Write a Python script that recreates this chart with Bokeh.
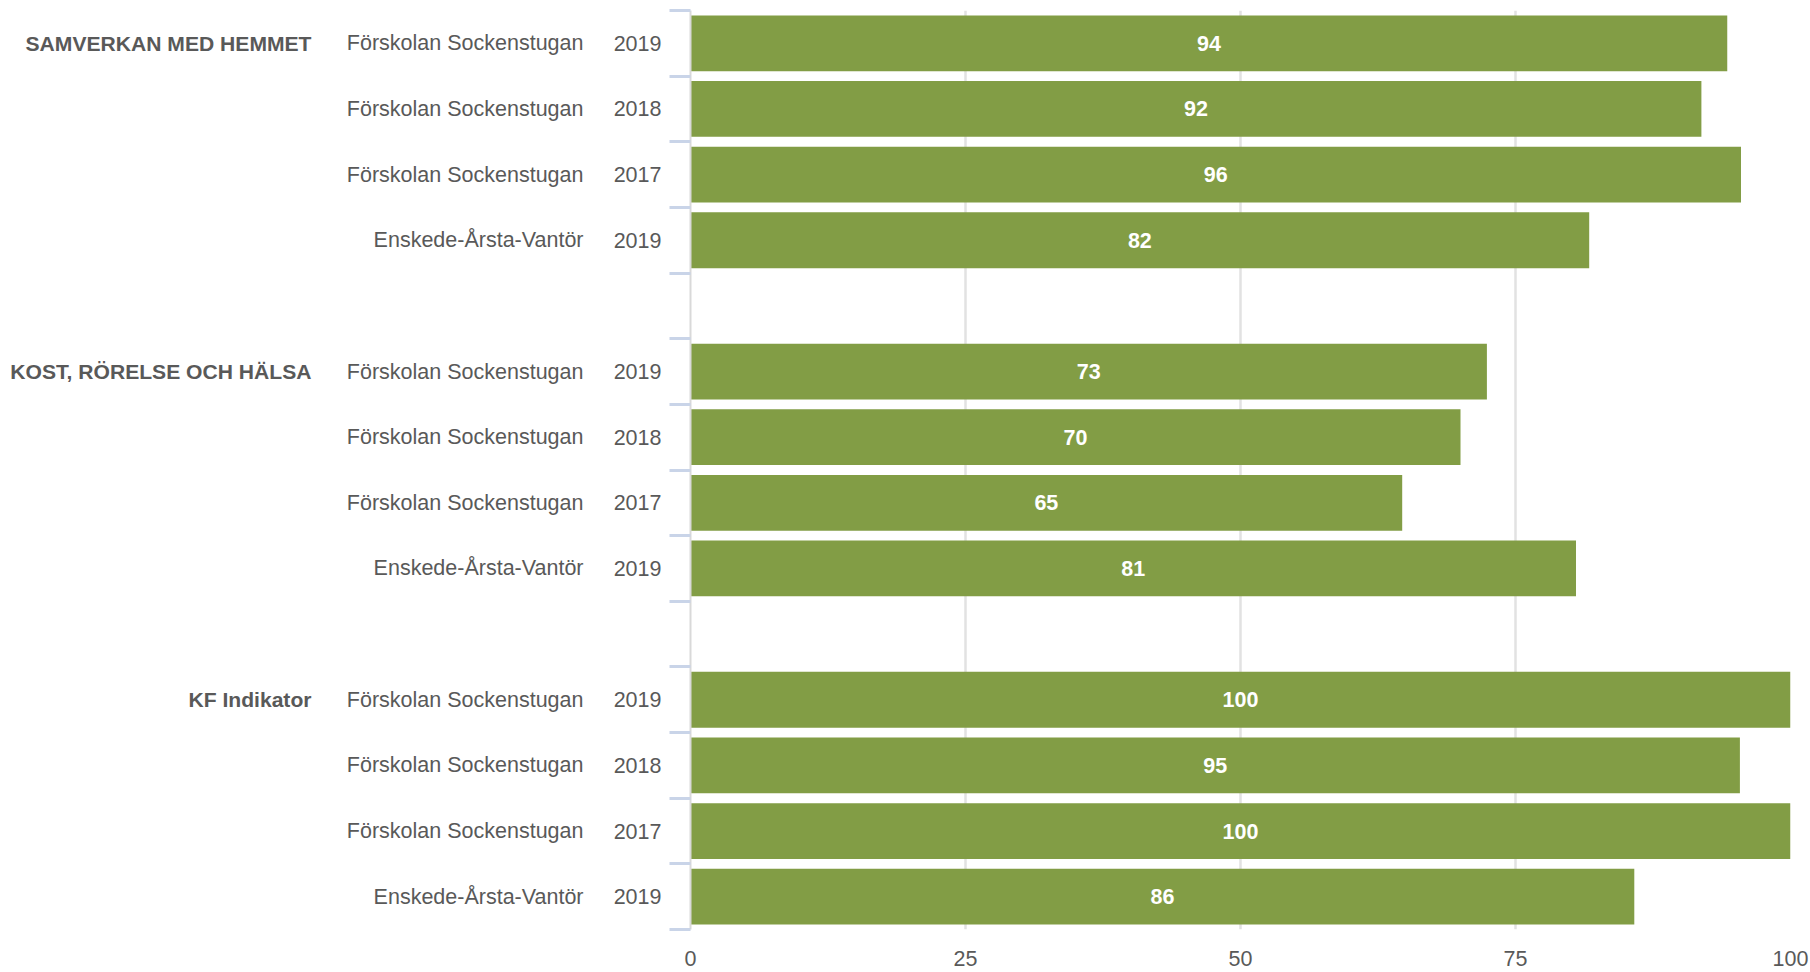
from bokeh.plotting import figure
from bokeh.models import Range1d, FixedTicker, LinearAxis, ColumnDataSource
from bokeh.embed import file_html
from bokeh.resources import INLINE
from bokeh.core.properties import value

# ---------------- data ----------------
groups = ["SAMVERKAN MED HEMMET", "KOST, RÖRELSE OCH HÄLSA", "KF Indikator"]
units = ["Förskolan Sockenstugan", "Förskolan Sockenstugan",
         "Förskolan Sockenstugan", "Enskede-Årsta-Vantör"]
years = ["2019", "2018", "2017", "2019"]

values_samverkan = [94.25, 91.9, 95.5, 81.7]
labels_samverkan = ["94", "92", "96", "82"]
values_kost = [72.4, 70.0, 64.7, 80.5]
labels_kost = ["73", "70", "65", "81"]
values_kf = [100, 95.4, 100, 85.8]
labels_kf = ["100", "95", "100", "86"]

x_ticks = [0, 25, 50, 75, 100]

# ---------------- styling ----------------
FONT = "Liberation Sans"
TEXT_COL = "#595959"
BAR_COL = "#829D45"
FS = "21.5px"

series_values = [values_samverkan, values_kost, values_kf]
series_labels = [labels_samverkan, labels_kost, labels_kf]

rows_per_group = len(units)
step = rows_per_group + 1          # one empty slot between groups
n_slots = len(groups) * step - 1

ys, vs, ts = [], [], []
year_over, unit_over, group_over = {}, {}, {}
for g, (gname, vals, labs) in enumerate(zip(groups, series_values, series_labels)):
    for r in range(rows_per_group):
        k = g * step + r
        ys.append(k)
        vs.append(vals[r])
        ts.append(labs[r])
        year_over[k] = years[r]
        unit_over[k] = units[r]
    group_over[g * step] = gname

boundaries = [k - 0.5 for k in range(n_slots + 1)]
src = ColumnDataSource(dict(y=ys, v=vs, mid=[v / 2 for v in vs], t=ts))

p = figure(width=1810, height=972,
           x_range=Range1d(x_ticks[0], x_ticks[-1]),
           y_range=Range1d(n_slots - 0.5, -0.5),
           output_backend="svg", toolbar_location=None,
           min_border_left=690, min_border_right=20,
           min_border_top=10, min_border_bottom=43)
p.outline_line_color = None
p.background_fill_color = "white"
p.border_fill_color = "white"

# grid
p.ygrid.visible = False
p.xgrid.ticker = FixedTicker(ticks=x_ticks[1:-1])
p.xgrid.grid_line_color = "#e2e2e2"
p.xgrid.grid_line_width = 2.5

# bars
p.hbar(y="y", left=0, right="v", height=0.85, source=src,
       fill_color=BAR_COL, line_color=None)
p.text(x="mid", y="y", text="t", source=src,
       text_align="center", text_baseline="middle",
       text_color="white", text_font=value(FONT),
       text_font_style="bold", text_font_size=FS)

# x axis
xa = p.xaxis[0]
xa.ticker = FixedTicker(ticks=x_ticks)
xa.axis_line_color = None
xa.major_tick_line_color = None
xa.minor_tick_line_color = None
xa.major_tick_out = 0
xa.major_tick_in = 0
xa.major_label_standoff = 21
xa.major_label_text_font = FONT
xa.major_label_text_font_size = FS
xa.major_label_text_color = TEXT_COL

# main y axis: boundary ticks (minor) + year labels
ya = p.yaxis[0]
ya.ticker = FixedTicker(ticks=ys, minor_ticks=boundaries)
ya.major_label_overrides = year_over
ya.major_tick_out = 0
ya.major_tick_in = 0
ya.major_tick_line_color = None
ya.minor_tick_out = 21
ya.minor_tick_in = 0
ya.minor_tick_line_color = "#c9d4e8"
ya.minor_tick_line_width = 3
ya.axis_line_color = "#d9d9d9"
ya.axis_line_width = 2
ya.major_label_standoff = 8
ya.major_label_text_font = FONT
ya.major_label_text_font_size = FS
ya.major_label_text_color = TEXT_COL

# unit names axis
ua = LinearAxis(ticker=FixedTicker(ticks=ys), major_label_overrides=unit_over,
                axis_line_color=None, major_tick_line_color=None,
                minor_tick_line_color=None, major_tick_out=0, major_tick_in=0,
                minor_tick_out=0, minor_tick_in=0, major_label_standoff=27,
                major_label_text_font=FONT, major_label_text_font_size=FS,
                major_label_text_color=TEXT_COL)
p.add_layout(ua, "left")

# group names axis
ga = LinearAxis(ticker=FixedTicker(ticks=sorted(group_over)),
                major_label_overrides=group_over,
                axis_line_color=None, major_tick_line_color=None,
                minor_tick_line_color=None, major_tick_out=0, major_tick_in=0,
                minor_tick_out=0, minor_tick_in=0, major_label_standoff=32,
                major_label_text_font=FONT, major_label_text_font_size="21.1px",
                major_label_text_font_style="bold",
                major_label_text_color=TEXT_COL)
p.add_layout(ga, "left")

open("out.html", "w").write(file_html(p, INLINE))
